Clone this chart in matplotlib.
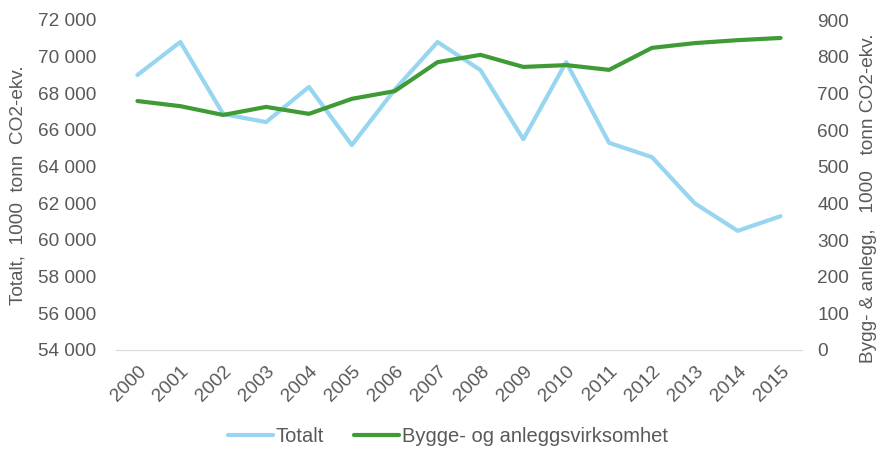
import matplotlib
matplotlib.use("Agg")
import matplotlib.pyplot as plt
from matplotlib.ticker import FuncFormatter

years = [str(y) for y in range(2000, 2016)]
totalt = [69000, 70800, 66870, 66430, 68350, 65180, 68200, 70800,
          69270, 65500, 69700, 65300, 64520, 62000, 60500, 61300]
bygg = [679, 665, 641, 663, 644, 685, 706, 785,
        805, 772, 777, 764, 824, 837, 845, 851]

plt.rcParams['font.family'] = ['Liberation Sans', 'DejaVu Sans']
txt = '#595959'
fs = 13.7

fig = plt.figure(figsize=(8.82, 4.5), dpi=100)
ax = fig.add_axes([116/882, 1-350/450, (802-116)/882, 330/450])
ax2 = ax.twinx()

x = list(range(len(years)))
l1, = ax.plot(x, totalt, color='#97d5f0', lw=3, solid_capstyle='round', solid_joinstyle='round', label='Totalt')
l2, = ax2.plot(x, bygg, color='#3f9b35', lw=3, solid_capstyle='round', solid_joinstyle='round', label='Bygge- og anleggsvirksomhet')

ax.set_xlim(-0.5, len(years)-0.5)
ax.set_ylim(54000, 72000)
ax.set_yticks(range(54000, 72001, 2000))
ax.yaxis.set_major_formatter(FuncFormatter(lambda v, p: f"{int(v):,}".replace(",", " ")))
ax2.set_ylim(0, 900)
ax2.set_yticks(range(0, 901, 100))

ax.set_xticks(x)
ax.set_xticklabels(years, rotation=45, ha='right', rotation_mode='anchor')

for a in (ax, ax2):
    for s in a.spines.values():
        s.set_visible(False)
    a.tick_params(length=0, labelsize=fs, colors=txt)
ax.spines['bottom'].set_visible(True)
ax.spines['bottom'].set_color('#d9d9d9')
ax.tick_params(axis='x', pad=9)
ax.tick_params(axis='y', pad=14)
ax2.tick_params(axis='y', pad=11)

ax.set_ylabel('Totalt,  1000  tonn  CO2-ekv.', fontsize=fs, color=txt)
ax.yaxis.set_label_coords(-89/686, 0.5)
ax2.set_ylabel('Bygg- & anlegg,   1000   tonn CO2-ekv.', fontsize=fs, color=txt, rotation=90)
ax2.yaxis.set_label_coords(1 + 58/686, 0.46)

fig.legend(handles=[l1, l2], loc='center', bbox_to_anchor=(448/882, 1-437/450),
           ncol=2, frameon=False, fontsize=14.5, labelcolor=txt,
           handlelength=2.2, handletextpad=0.15, columnspacing=1.5)

fig.savefig('out.png', dpi=100)
